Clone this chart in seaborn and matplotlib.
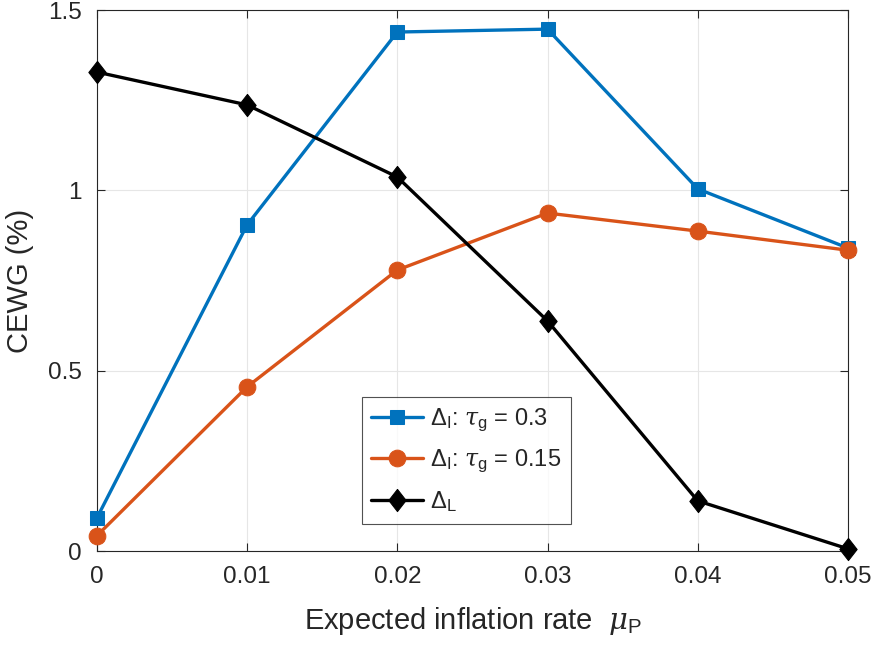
import numpy as np
import pandas as pd
import matplotlib
matplotlib.use('Agg')
import matplotlib.pyplot as plt
import seaborn as sns

# datos
mu_p = [0.0, 0.01, 0.02, 0.03, 0.04, 0.05]
delta_i_03 = [0.091, 0.904, 1.439, 1.447, 1.004, 0.840]
delta_i_015 = [0.042, 0.455, 0.779, 0.937, 0.887, 0.834]
delta_l = [1.328, 1.237, 1.037, 0.638, 0.139, 0.006]

x_ticks = [0, 0.01, 0.02, 0.03, 0.04, 0.05]
x_ticklabels = ['0', '0.01', '0.02', '0.03', '0.04', '0.05']
y_ticks = [0, 0.5, 1, 1.5]
y_ticklabels = ['0', '0.5', '1', '1.5']

sns.set_style('ticks')
plt.rcParams['font.family'] = ['Liberation Sans', 'DejaVu Sans']
plt.rcParams['mathtext.fontset'] = 'custom'
plt.rcParams['mathtext.rm'] = 'Liberation Sans'
plt.rcParams['mathtext.it'] = 'DejaVu Serif:italic'

fig = plt.figure(figsize=(8.72, 6.51), dpi=100)
ax = fig.add_axes([0.111, 0.1536, 0.8615, 0.831])

# diamante un poco mas alto que ancho (estilo MATLAB)
diamante = [(0, 1), (0.78, 0), (0, -1), (-0.78, 0), (0, 1)]

series = [
    (delta_i_03, '#0072BD', 's', r'$\Delta_{\mathrm{I}}$: $\tau_{\mathrm{g}}$ = 0.3', 10),
    (delta_i_015, '#D95319', 'o', r'$\Delta_{\mathrm{I}}$: $\tau_{\mathrm{g}}$ = 0.15', 12),
    (delta_l, 'black', diamante, r'$\Delta_{\mathrm{L}}$', 16),
]

for valores, color, marcador, etiqueta, ms in series:
    df = pd.DataFrame({'x': mu_p, 'y': valores})
    sns.lineplot(data=df, x='x', y='y', ax=ax, color=color, marker=marcador,
                 markersize=ms, markeredgecolor=color, linewidth=2.4,
                 label=etiqueta, clip_on=False, zorder=3)

ax.set_xlim(0, 0.05)
ax.set_ylim(0, 1.5)
ax.set_xticks(x_ticks)
ax.set_xticklabels(x_ticklabels)
ax.set_yticks(y_ticks)
ax.set_yticklabels(y_ticklabels)
ax.grid(True, color='#e6e6e6', linewidth=0.8)
ax.tick_params(direction='in', top=True, right=True, labelsize=17.5,
               colors='#262626', length=6, pad=11)
for s in ax.spines.values():
    s.set_visible(True)
    s.set_color('#262626')
    s.set_linewidth(0.8)

ax.set_xlabel(r'Expected inflation rate  $\mu_{\mathrm{P}}$', fontsize=21,
              color='#262626', labelpad=12)
ax.set_ylabel('CEWG (%)', fontsize=21, color='#262626', labelpad=10)

leg = ax.legend(loc='upper left', bbox_to_anchor=(0.353, 0.285),
                borderaxespad=0, fontsize=17,
                frameon=True, fancybox=False, edgecolor='#262626',
                handlelength=2.2, borderpad=0.4, labelspacing=0.6,
                handletextpad=0.3)
leg.get_frame().set_linewidth(0.8)

fig.savefig('out.png', dpi=100)
